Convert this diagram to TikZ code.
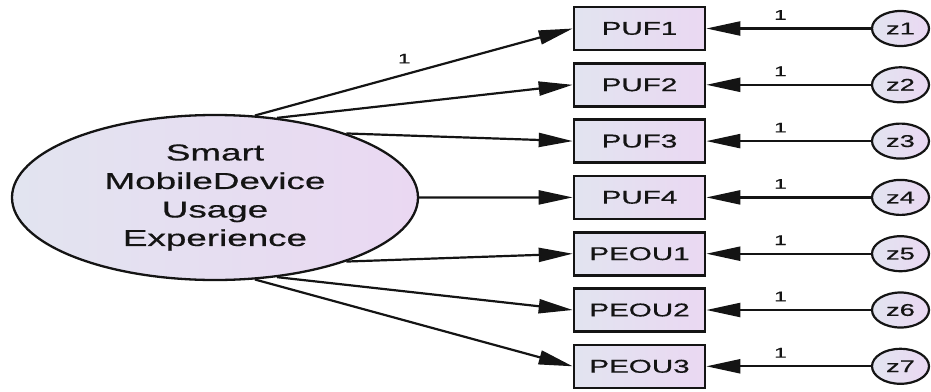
\documentclass[tikz,border=0pt]{standalone}
\usepackage{fontspec}
\setmainfont{Liberation Sans}[FakeBold=0.5]
\usepackage{graphicx}
\usetikzlibrary{shapes.geometric,arrows.meta}
\definecolor{fillL}{RGB}{226,228,240}
\definecolor{fillR}{RGB}{234,216,242}
\definecolor{ink}{RGB}{20,20,20}
\newcommand\sx[1]{\scalebox{1.6}[1]{#1}}
\begin{document}
\begin{tikzpicture}[x=1pt,y=-1pt,
  obs/.style={draw=ink,line width=2.6pt,rectangle,minimum width=131pt,minimum height=43pt,inner sep=0pt,
    left color=fillL,right color=fillR,font=\fontsize{18.5}{22}\selectfont,text=ink},
  err/.style={draw=ink,line width=2.2pt,ellipse,minimum width=57pt,minimum height=35pt,inner sep=0pt,
    left color=fillL,right color=fillR,font=\fontsize{17}{20}\selectfont,text=ink},
  lat/.style={draw=ink,line width=2.3pt,ellipse,minimum width=406pt,minimum height=165pt,inner sep=0pt,
    left color=fillL,right color=fillR,text=ink},
  arr/.style={draw=ink,line width=2.2pt,-{Triangle[length=34pt,width=14pt]}},
  wt/.style={font=\fontsize{14}{16}\selectfont,text=ink}]
\useasboundingbox (0,0) rectangle (931,391);
\node[lat] (E) at (215,197.5) {\sx{\fontsize{23}{28.5}\selectfont\begin{tabular}{@{}c@{}}Smart\\MobileDevice\\Usage\\Experience\end{tabular}}};
\foreach \i/\lab [evaluate=\i as \yy using 28.5+56.3*(\i-1)] in {1/PUF1,2/PUF2,3/PUF3,4/PUF4,5/PEOU1,6/PEOU2,7/PEOU3}{
  \node[obs] (b\i) at (639.5,\yy) {\sx{\lab}};
  \node[err] (z\i) at (900.5,\yy) {\sx{z\i}};
  \draw[arr] (z\i) -- node[wt,pos=0.55,yshift=13.5pt]{\sx{1}} (b\i);
}
\draw[arr] (E.64) -- node[wt,pos=0.47,yshift=16pt]{\sx{1}} (b1.west);
\draw[arr] (E.52.7) -- (b2.west);
\draw[arr] (E.26.2) -- (b3.west);
\draw[arr] (E.0) -- (b4.west);
\draw[arr] (E.-26.2) -- (b5.west);
\draw[arr] (E.-52.7) -- (b6.west);
\draw[arr] (E.-64) -- (b7.west);
\end{tikzpicture}
\end{document}
